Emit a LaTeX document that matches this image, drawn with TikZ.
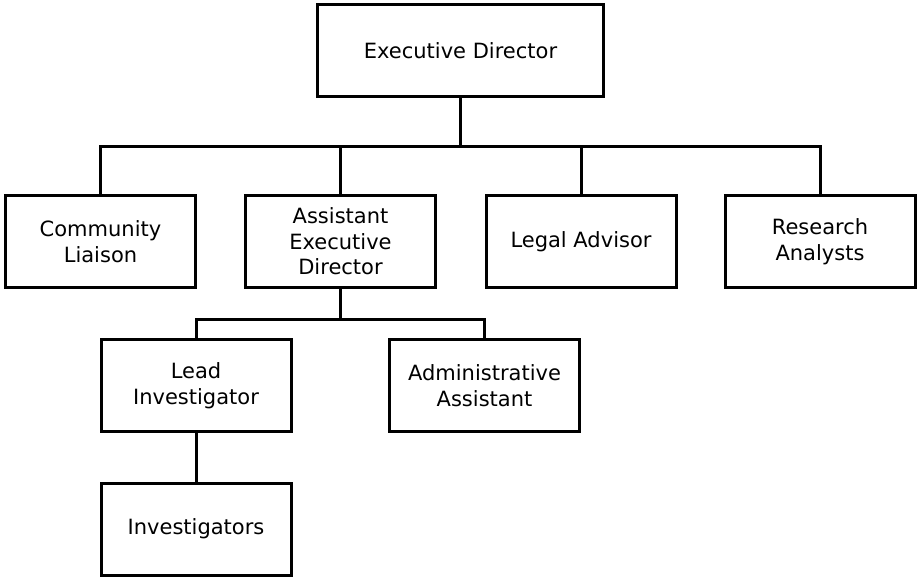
\documentclass[tikz,border=0pt]{standalone}
\usepackage{fontspec}
\setmainfont{DejaVu Sans}
\usepackage{tikz}
\usetikzlibrary{positioning}

\begin{document}
\begin{tikzpicture}[
            x=1pt, y=-1pt,
            role/.style={rectangle, draw, line width=3pt, align=center, minimum width=190pt, minimum height=92pt, inner sep=0pt, font=\fontsize{21}{25.5}\selectfont}, % Box for each post
            link/.style={line width=3pt}, % Connector lines
            every node/.style={fill=white}
            ]
        \useasboundingbox (0,0) rectangle (917,581);

                % Top level
                \node[role, minimum width=286pt] (ed) at (460.5,50.5) {Executive Director};

                % Second level
                \node[role] (cl) at (100.5,241.5) {Community\\Liaison};
                \node[role] (aed) at (340.5,241.5) {Assistant\\Executive\\Director};
                \node[role] (la) at (581,241.5) {Legal Advisor};
                \node[role] (ra) at (820,241.5) {Research\\Analysts};

                % Third and fourth level
                \node[role] (li) at (196,385.5) {Lead\\Investigator};
                \node[role] (aa) at (484.5,385.5) {Administrative\\Assistant};
                \node[role] (inv) at (196,529) {Investigators};

                % Forks
                \coordinate (fork1) at (460.5,146);
                \coordinate (fork2) at (340.5,319);

                \draw[link] (ed.south) -- (fork1);
                \draw[link] (cl.north) |- (fork1);
                \draw[link] (aed.north) |- (fork1);
                \draw[link] (la.north) |- (fork1);
                \draw[link] (ra.north) |- (fork1);

                \draw[link] (aed.south) -- (fork2);
                \draw[link] (li.north) |- (fork2);
                \draw[link] (aa.north) |- (fork2);
                \draw[link] (li.south) -- (inv.north);

            \end{tikzpicture}
\end{document}
